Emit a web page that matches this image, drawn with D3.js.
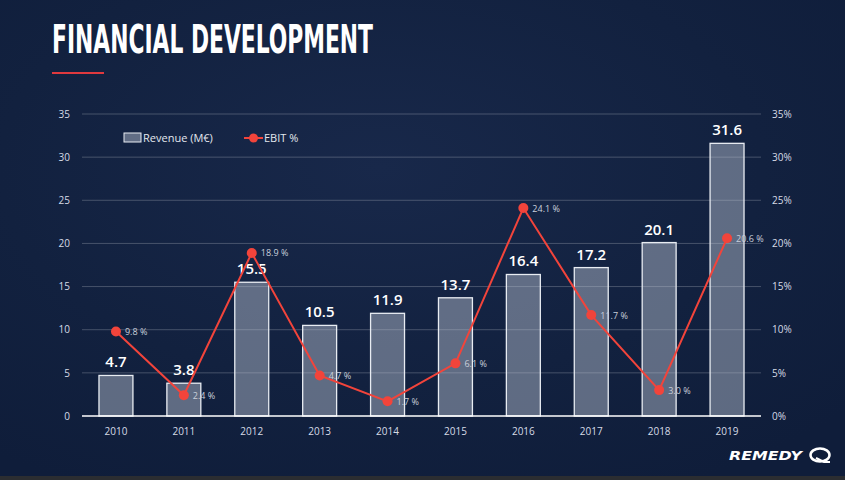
<!DOCTYPE html>
<html>
<head>
<meta charset="utf-8">
<script src="https://cdn.jsdelivr.net/npm/d3@7"></script>
<style>
  html, body { margin: 0; padding: 0; background: #10203d; }
  svg { display: block; font-family: "Open Sans", "Noto Sans", sans-serif; }
</style>
</head>
<body>
<div id="chart"></div>
<script>
// data
const years = ["2010", "2011", "2012", "2013", "2014", "2015", "2016", "2017", "2018", "2019"];
const revenue = [4.7, 3.8, 15.5, 10.5, 11.9, 13.7, 16.4, 17.2, 20.1, 31.6];
const ebit = [9.8, 2.4, 18.9, 4.7, 1.7, 6.1, 24.1, 11.7, 3.0, 20.6];
const leftTicks = [0, 5, 10, 15, 20, 25, 30, 35];
const rightTicks = [0, 5, 10, 15, 20, 25, 30, 35];

const W = 845, H = 480;
const MARGIN = {left: 82, right: 84, top: 114, bottom: 64};
const RED = "#f2443b";

const svg = d3.select("#chart").append("svg")
  .attr("width", W).attr("height", H);

// background
const defs = svg.append("defs");
const bg = defs.append("radialGradient").attr("id", "bg")
  .attr("cx", "45%").attr("cy", "35%").attr("r", "75%");
bg.append("stop").attr("offset", "0%").attr("stop-color", "#18284a");
bg.append("stop").attr("offset", "60%").attr("stop-color", "#12213f");
bg.append("stop").attr("offset", "100%").attr("stop-color", "#0f1d3a");
svg.append("rect").attr("width", W).attr("height", H).attr("fill", "url(#bg)");
svg.append("rect").attr("y", 476).attr("width", W).attr("height", 4).attr("fill", "#2b2d31");

// title
svg.append("text")
  .attr("x", 52).attr("y", 53)
  .attr("textLength", 321).attr("lengthAdjust", "spacingAndGlyphs")
  .style("font-family", "'Liberation Sans Narrow', 'DejaVu Sans Condensed', sans-serif")
  .style("font-weight", "bold").style("font-size", "39px")
  .attr("fill", "#ffffff")
  .text("FINANCIAL DEVELOPMENT");
svg.append("rect").attr("x", 52).attr("y", 72).attr("width", 52).attr("height", 2).attr("fill", "#e0393e");

// scales
const x = d3.scaleBand().domain(years)
  .range([MARGIN.left, W - MARGIN.right])
  .paddingInner(0.5).paddingOuter(0.25);
const yL = d3.scaleLinear().domain([0, 35]).range([H - MARGIN.bottom, MARGIN.top]);
const yR = d3.scaleLinear().domain([0, 35]).range([H - MARGIN.bottom, MARGIN.top]);

// gridlines
svg.append("g").selectAll("line").data(leftTicks.filter(d => d > 0)).join("line")
  .attr("x1", MARGIN.left).attr("x2", W - MARGIN.right)
  .attr("y1", d => yL(d)).attr("y2", d => yL(d))
  .attr("stroke", "rgba(255,255,255,0.22)").attr("stroke-width", 1);

// left axis
const axL = svg.append("g").attr("transform", `translate(${MARGIN.left},0)`)
  .call(d3.axisLeft(yL).tickValues(leftTicks).tickSize(0).tickPadding(12));
axL.select(".domain").remove();
axL.selectAll("text").attr("fill", "#d6dbe6").style("font-size", "10px")
  .style("font-family", "'Open Sans', sans-serif");

// right axis
const axR = svg.append("g").attr("transform", `translate(${W - MARGIN.right},0)`)
  .call(d3.axisRight(yR).tickValues(rightTicks).tickSize(0).tickPadding(11)
    .tickFormat(d => d + "%"));
axR.select(".domain").remove();
axR.selectAll("text").attr("fill", "#d6dbe6").style("font-size", "10px")
  .style("font-family", "'Open Sans', sans-serif");

// bottom axis
const axB = svg.append("g").attr("transform", `translate(0,${H - MARGIN.bottom})`)
  .call(d3.axisBottom(x).tickSize(0).tickPadding(12));
axB.select(".domain").remove();
axB.selectAll("text").attr("fill", "#d6dbe6").style("font-size", "10px")
  .style("font-family", "'Open Sans', sans-serif");

// bars
svg.append("g").selectAll("rect").data(revenue).join("rect")
  .attr("x", (d, i) => x(years[i]))
  .attr("width", x.bandwidth())
  .attr("y", d => yL(d))
  .attr("height", d => yL(0) - yL(d))
  .attr("fill", "rgba(190,200,215,0.45)")
  .attr("stroke", "#e8ecf2").attr("stroke-width", 1.3);

// baseline
svg.append("line")
  .attr("x1", MARGIN.left).attr("x2", W - MARGIN.right)
  .attr("y1", yL(0)).attr("y2", yL(0))
  .attr("stroke", "#ffffff").attr("stroke-width", 1.5);

// bar labels
svg.append("g").selectAll("text").data(revenue).join("text")
  .attr("x", (d, i) => x(years[i]) + x.bandwidth() / 2)
  .attr("y", d => yL(d) - 8)
  .attr("text-anchor", "middle")
  .attr("fill", "#ffffff")
  .style("font-size", "15px").style("font-weight", "600")
  .style("font-family", "'Open Sans', sans-serif")
  .text(d => d.toFixed(1));

// EBIT line
const line = d3.line()
  .x((d, i) => x(years[i]) + x.bandwidth() / 2)
  .y(d => yR(d));
svg.append("path").datum(ebit)
  .attr("d", line).attr("fill", "none")
  .attr("stroke", RED).attr("stroke-width", 2);
svg.append("g").selectAll("circle").data(ebit).join("circle")
  .attr("cx", (d, i) => x(years[i]) + x.bandwidth() / 2)
  .attr("cy", d => yR(d))
  .attr("r", 5).attr("fill", RED);
svg.append("g").selectAll("text").data(ebit).join("text")
  .attr("x", (d, i) => x(years[i]) + x.bandwidth() / 2 + 9)
  .attr("y", d => yR(d) + 3.5)
  .attr("fill", "#c9cfdb")
  .style("font-size", "9px")
  .style("font-family", "'Open Sans', sans-serif")
  .text(d => d.toFixed(1) + " %");

// legend
const lg = svg.append("g");
lg.append("rect").attr("x", 124).attr("y", 133).attr("width", 17).attr("height", 9)
  .attr("fill", "rgba(190,200,215,0.45)").attr("stroke", "#e8ecf2").attr("stroke-width", 1);
lg.append("text").attr("x", 143).attr("y", 142)
  .attr("fill", "#e3e7ee").style("font-size", "11px")
  .style("font-family", "'Open Sans', sans-serif")
  .text("Revenue (M€)");
lg.append("line").attr("x1", 244).attr("x2", 263).attr("y1", 138).attr("y2", 138)
  .attr("stroke", RED).attr("stroke-width", 2);
lg.append("circle").attr("cx", 253.5).attr("cy", 138).attr("r", 4.5).attr("fill", RED);
lg.append("text").attr("x", 264).attr("y", 142)
  .attr("fill", "#e3e7ee").style("font-size", "11px")
  .style("font-family", "'Open Sans', sans-serif")
  .text("EBIT %");

// logo
const logo = svg.append("g");
logo.append("text").attr("x", 729).attr("y", 459.5)
  .attr("textLength", 73).attr("lengthAdjust", "spacingAndGlyphs")
  .attr("fill", "#ffffff")
  .style("font-family", "'DejaVu Sans', sans-serif")
  .style("font-weight", "bold").style("font-style", "italic").style("font-size", "11.5px")
  .text("REMEDY");
logo.append("ellipse").attr("cx", 820).attr("cy", 455).attr("rx", 9.5).attr("ry", 6.5)
  .attr("fill", "none").attr("stroke", "#ffffff").attr("stroke-width", 2.5);
logo.append("path").attr("d", "M816,458 L824,462 L830,462")
  .attr("fill", "none").attr("stroke", "#ffffff").attr("stroke-width", 2.2);
</script>
</body>
</html>
